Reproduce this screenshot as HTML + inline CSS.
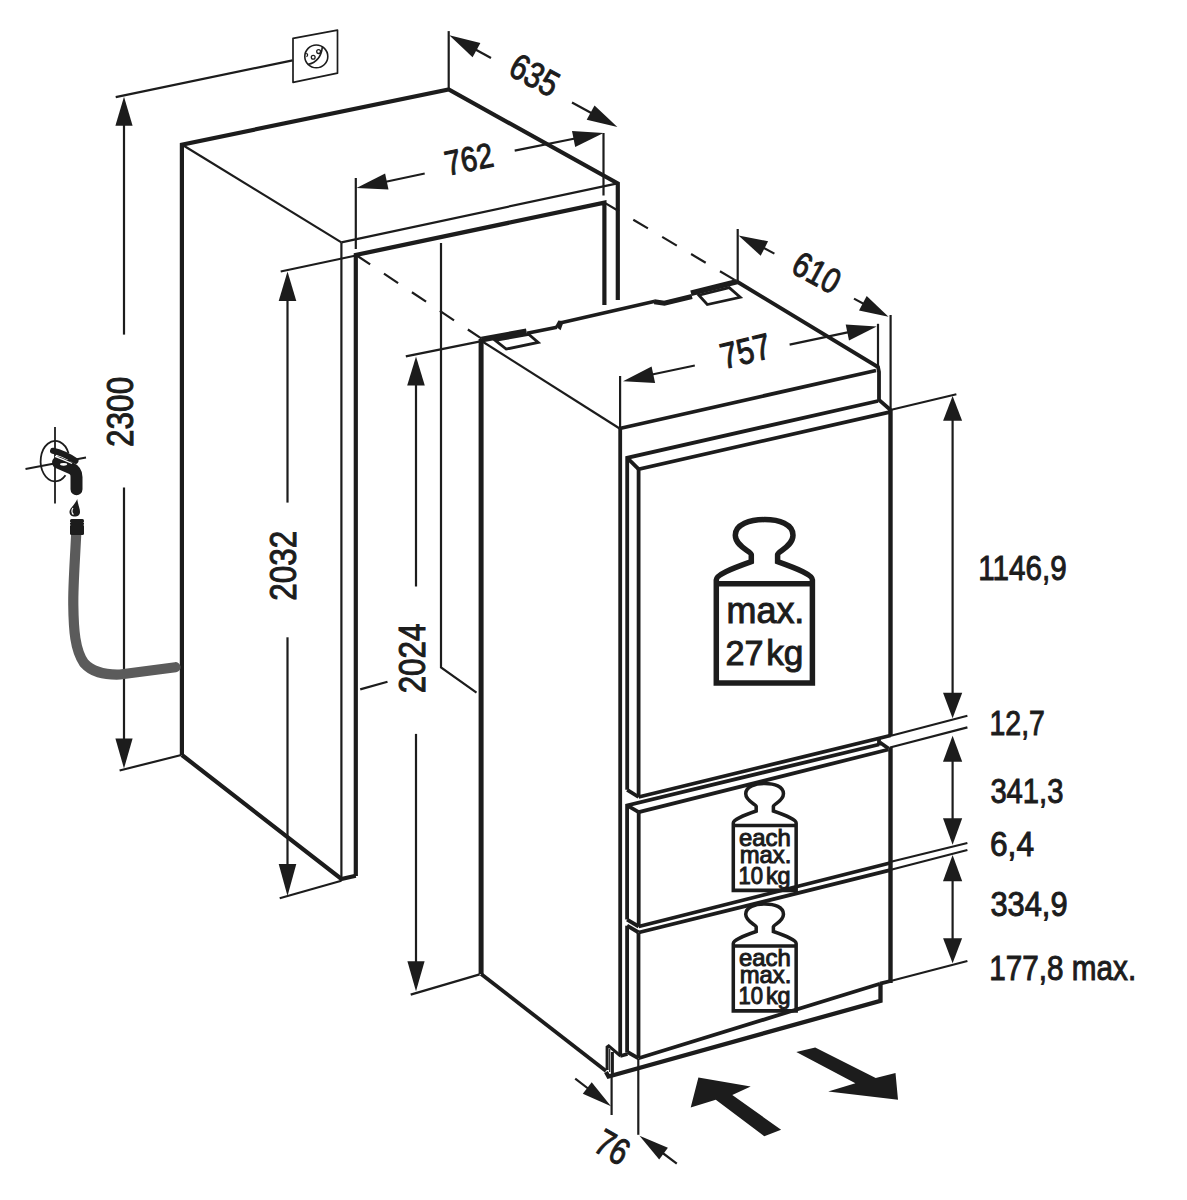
<!DOCTYPE html>
<html><head><meta charset="utf-8"><style>
html,body{margin:0;padding:0;background:#fff;}
svg{display:block;}
text{font-family:"Liberation Sans",sans-serif;fill:#1c1c1c;}
</style></head><body>
<svg width="1187" height="1200" viewBox="0 0 1187 1200" stroke="#1c1c1c" stroke-linecap="butt" stroke-linejoin="miter">
<rect width="1187" height="1200" fill="#fff" stroke="none"/>
<polyline points="181.9,755 181.9,144.6 448.7,89.5 617.8,183.5 617.8,300" stroke-width="4.2" fill="none"/>
<polyline points="355.8,876 355.8,255 604.4,202.6 604.4,305" stroke-width="4.2" fill="none"/>
<polyline points="181.9,755 341.4,879 355.8,875.7" stroke-width="4.2" fill="none"/>
<line x1="181" y1="144" x2="341.4" y2="242.4" stroke-width="2.2"/>
<line x1="341.4" y1="242.4" x2="617.5" y2="183.3" stroke-width="2.2"/>
<line x1="341.4" y1="242.4" x2="341.4" y2="879" stroke-width="2.2"/>
<polyline points="441,243 441,667.4 476.5,692.7" stroke-width="2.2" fill="none"/>
<line x1="360.2" y1="689.4" x2="387.5" y2="681.8" stroke-width="2.2"/>
<line x1="356" y1="255" x2="481.6" y2="338.7" stroke-width="2.2" stroke-dasharray="17 16.6"/>
<line x1="604.4" y1="202.6" x2="736.5" y2="281" stroke-width="2.2" stroke-dasharray="17 16.6"/>
<line x1="527" y1="333.3" x2="557" y2="327.2" stroke-width="3.5"/>
<line x1="561" y1="322.7" x2="655" y2="301.2" stroke-width="3.5"/>
<polygon points="555.3,326.2 558.4,320.5 563.8,321.3 560.6,330.2" fill="#1c1c1c" stroke="none"/>
<line x1="481.5" y1="339.6" x2="526.5" y2="331.3" stroke-width="5.8"/>
<polyline points="654.3,301.8 664.4,303.2 692,296.5" stroke-width="5" fill="none"/>
<line x1="691" y1="293.2" x2="737" y2="281.6" stroke-width="5.6"/>
<polygon points="495.2,340.3 506.2,349.1 538.2,342.4 528.9,334.4" stroke-width="2.8" fill="none"/>
<polygon points="698.9,295.2 707.3,304.5 740.2,297.3 729.2,287.6" stroke-width="2.8" fill="none"/>
<line x1="481.1" y1="339" x2="481.1" y2="974" stroke-width="5"/>
<polyline points="736,281 878,367 879,372 879,400 890.6,410" stroke-width="3.8" fill="none"/>
<line x1="619.6" y1="428.5" x2="876" y2="370.5" stroke-width="3.8"/>
<line x1="481.6" y1="341" x2="619.6" y2="428.5" stroke-width="2.2"/>
<line x1="620.2" y1="428.5" x2="620.2" y2="1055" stroke-width="3.8"/>
<line x1="481.1" y1="974" x2="606" y2="1071" stroke-width="3.8"/>
<line x1="890.5" y1="410" x2="890.5" y2="735.5" stroke-width="4.4"/>
<line x1="890.5" y1="747.3" x2="890.5" y2="983" stroke-width="4.4"/>
<polyline points="627.2,789.8 627.2,457.8 878,401" stroke-width="3.8" fill="none"/>
<polyline points="638.6,797 638.6,469.2 890.6,411.8" stroke-width="3.8" fill="none"/>
<line x1="627.2" y1="457.8" x2="638.6" y2="469.2" stroke-width="3.8"/>
<line x1="627.2" y1="789.8" x2="638.6" y2="797" stroke-width="3.8"/>
<line x1="638.6" y1="797" x2="890.5" y2="735.5" stroke-width="3.8"/>
<polyline points="627.1,919.6 627.1,805.4 879,744.5" stroke-width="3.8" fill="none"/>
<line x1="879" y1="737" x2="879" y2="745.5" stroke-width="3.8"/>
<line x1="627.1" y1="805.4" x2="638.7" y2="812.1" stroke-width="3.8"/>
<line x1="638.7" y1="812.1" x2="888.5" y2="749.5" stroke-width="3.8"/>
<line x1="880" y1="742.5" x2="888.5" y2="748.5" stroke-width="3.8"/>
<line x1="638.7" y1="812.1" x2="638.7" y2="926.5" stroke-width="3.8"/>
<line x1="627.1" y1="919.6" x2="638.7" y2="926.5" stroke-width="3.8"/>
<line x1="638.7" y1="926.5" x2="890" y2="863" stroke-width="3.8"/>
<line x1="627.1" y1="925.7" x2="627.1" y2="1052.5" stroke-width="3.8"/>
<line x1="627.1" y1="925.7" x2="638.7" y2="932.5" stroke-width="3.8"/>
<line x1="638.7" y1="932.5" x2="890" y2="870.2" stroke-width="3.8"/>
<line x1="638.5" y1="933" x2="638.5" y2="1058.3" stroke-width="3.8"/>
<line x1="627.5" y1="1052" x2="638.5" y2="1058.3" stroke-width="3.8"/>
<line x1="638.5" y1="1058.3" x2="880" y2="983.7" stroke-width="3.8"/>
<line x1="880" y1="983.7" x2="890.6" y2="981" stroke-width="3.8"/>
<polyline points="606,1072 608.5,1076.5 880.5,1000.8 880.5,983.7" stroke-width="4.3" fill="none"/>
<polyline points="607.1,1070 607.1,1047 608.7,1045.8 620.5,1056" stroke-width="3" fill="none"/>
<line x1="612.4" y1="1052" x2="612.4" y2="1076" stroke-width="3"/>
<line x1="609.7" y1="1049" x2="609.7" y2="1072" stroke-width="1.2"/>
<line x1="620.2" y1="1056" x2="627.5" y2="1054" stroke-width="3.8"/>
<line x1="115.7" y1="97.1" x2="292.6" y2="60.4" stroke-width="2.2"/>
<line x1="124" y1="110" x2="124" y2="334.6" stroke-width="2.2"/>
<line x1="124" y1="487.4" x2="124" y2="755" stroke-width="2.2"/>
<polygon points="124,96.8 115.4,125.8 132.6,125.8" fill="#1c1c1c" stroke="none"/>
<polygon points="124,768.5 132.6,738.5 115.4,738.5" fill="#1c1c1c" stroke="none"/>
<line x1="119.6" y1="770.5" x2="181.3" y2="755" stroke-width="2.2"/>
<polygon points="293,38.3 337.5,30.1 337.5,73.2 293,82.4" stroke-width="1.7" fill="none" stroke-linejoin="round"/>
<ellipse cx="316.3" cy="56.4" rx="11.5" ry="11.4" stroke-width="1.6" fill="none"/>
<path d="M 307.7 64.5 C 313 63.5, 321 60, 322.4 46.7" stroke-width="1.6" fill="none"/>
<path d="M 306.2 53.3 A 1.7 1.7 0 0 1 306.4 56.6" stroke-width="1.3" fill="none"/>
<circle cx="313.2" cy="57.2" r="1.9" stroke-width="1.3" fill="none"/>
<circle cx="318.6" cy="51.6" r="1.9" stroke-width="1.3" fill="none"/>
<line x1="280.7" y1="271.5" x2="356" y2="255.5" stroke-width="2.2"/>
<line x1="287.5" y1="290" x2="287.5" y2="502.6" stroke-width="2.2"/>
<line x1="287.5" y1="637.3" x2="287.5" y2="880" stroke-width="2.2"/>
<polygon points="287.5,271.5 278.7,301 296.3,301" fill="#1c1c1c" stroke="none"/>
<polygon points="287.5,896 296.3,864 278.7,864" fill="#1c1c1c" stroke="none"/>
<line x1="279.7" y1="898.2" x2="341.4" y2="880.7" stroke-width="2.2"/>
<line x1="405.8" y1="356.4" x2="481.6" y2="341.2" stroke-width="2.2"/>
<line x1="416" y1="370" x2="416" y2="586.5" stroke-width="2.2"/>
<line x1="416" y1="733.9" x2="416" y2="975" stroke-width="2.2"/>
<polygon points="416,356.4 407.2,385.4 424.8,385.4" fill="#1c1c1c" stroke="none"/>
<polygon points="416,991.3 424.6,961.3 407.4,961.3" fill="#1c1c1c" stroke="none"/>
<line x1="410.7" y1="994.6" x2="479.7" y2="974.4" stroke-width="2.2"/>
<line x1="448.7" y1="31.1" x2="448.7" y2="89.5" stroke-width="2.2"/>
<line x1="470" y1="46.5" x2="491" y2="58" stroke-width="2.2"/>
<polygon points="449.3,35.2 472.6,57.3 480.4,42.9" fill="#1c1c1c" stroke="none"/>
<line x1="572" y1="102.5" x2="600" y2="117.8" stroke-width="2.2"/>
<polygon points="617.4,127.1 594.5,105.4 586.7,119.8" fill="#1c1c1c" stroke="none"/>
<line x1="355.8" y1="178" x2="355.8" y2="249" stroke-width="2.2"/>
<line x1="603.5" y1="133" x2="603.5" y2="195.5" stroke-width="2.2"/>
<line x1="380" y1="183" x2="424.7" y2="173.5" stroke-width="2.2"/>
<polygon points="356.5,188 388.5,189.6 385.1,173.5" fill="#1c1c1c" stroke="none"/>
<line x1="514.7" y1="150.6" x2="580" y2="137.5" stroke-width="2.2"/>
<polygon points="603.5,133 572,130.9 575.2,147" fill="#1c1c1c" stroke="none"/>
<line x1="737.7" y1="229" x2="737.7" y2="281" stroke-width="2.2"/>
<line x1="890.6" y1="315" x2="890.6" y2="410" stroke-width="2.2"/>
<line x1="760" y1="246" x2="774.4" y2="253.6" stroke-width="2.2"/>
<polygon points="738.5,235.4 760.7,255.8 768.1,241.2" fill="#1c1c1c" stroke="none"/>
<line x1="854" y1="298.6" x2="870" y2="307.3" stroke-width="2.2"/>
<polygon points="888.5,316.8 866.7,296 859,310.5" fill="#1c1c1c" stroke="none"/>
<line x1="620.1" y1="376" x2="620.1" y2="428.5" stroke-width="2.2"/>
<line x1="878" y1="323.8" x2="878" y2="367" stroke-width="2.2"/>
<line x1="645" y1="376" x2="694.8" y2="365.5" stroke-width="2.2"/>
<polygon points="623,381.2 655.1,383 651.6,366.6" fill="#1c1c1c" stroke="none"/>
<line x1="789.6" y1="344.6" x2="850" y2="331.8" stroke-width="2.2"/>
<polygon points="876.7,326.4 845.7,324.5 849,340.6" fill="#1c1c1c" stroke="none"/>
<line x1="890.3" y1="410" x2="956.4" y2="394.2" stroke-width="2.2"/>
<line x1="952.6" y1="415" x2="952.6" y2="700" stroke-width="2.2"/>
<polygon points="952.6,396 943.1,420.8 962.1,420.8" fill="#1c1c1c" stroke="none"/>
<polygon points="952.6,718.3 962.2,692.8 943,692.8" fill="#1c1c1c" stroke="none"/>
<line x1="890" y1="736" x2="967.4" y2="715.8" stroke-width="2.2"/>
<line x1="890" y1="747.5" x2="967.4" y2="727.4" stroke-width="2.2"/>
<line x1="952.6" y1="750" x2="952.6" y2="830" stroke-width="2.2"/>
<polygon points="952.6,735.8 943,761.8 962.2,761.8" fill="#1c1c1c" stroke="none"/>
<polygon points="952.6,844.7 962.2,818.3 943,818.3" fill="#1c1c1c" stroke="none"/>
<line x1="890" y1="862" x2="967.4" y2="843" stroke-width="2.2"/>
<line x1="890" y1="870" x2="967.4" y2="850" stroke-width="2.2"/>
<line x1="952.6" y1="870" x2="952.6" y2="950" stroke-width="2.2"/>
<polygon points="952.6,855 943,881.3 962.2,881.3" fill="#1c1c1c" stroke="none"/>
<polygon points="952.6,963.2 962.1,938.2 943.1,938.2" fill="#1c1c1c" stroke="none"/>
<line x1="890.6" y1="981" x2="967.4" y2="961" stroke-width="2.2"/>
<line x1="611.6" y1="1077" x2="611.6" y2="1115" stroke-width="2.2"/>
<line x1="638.3" y1="1059" x2="638.3" y2="1134.8" stroke-width="2.2"/>
<line x1="575.2" y1="1078.7" x2="590" y2="1090" stroke-width="2.2"/>
<polygon points="611,1106.3 591.7,1082.2 582.8,1093.8" fill="#1c1c1c" stroke="none"/>
<line x1="660" y1="1151" x2="676.8" y2="1163.6" stroke-width="2.2"/>
<polygon points="639.5,1135.7 659.2,1159.5 667.9,1147.8" fill="#1c1c1c" stroke="none"/>
<polygon points="690.7,1107.5 698.4,1077.5 750.7,1086.6 732.3,1094.9 781.1,1129.8 764.3,1136.2 715.8,1099.8" fill="#1c1c1c" stroke="none"/>
<polygon points="796.3,1051.9 815.2,1047.4 875.7,1078.1 895.5,1073 898,1099.8 828.2,1091.6 855.4,1083.3" fill="#1c1c1c" stroke="none"/>
<path d="M 76.2 534 C 75 560, 73 585, 73.3 605 C 73.6 630, 75 650, 84 663 C 92 672, 103 675, 120 674.5 L 175.5 667.2" stroke="#5b5b5b" stroke-width="10.2" fill="none" stroke-linecap="round"/>
<line x1="55" y1="427" x2="55" y2="503.5" stroke-width="1.8"/>
<line x1="25.5" y1="469" x2="86" y2="457.5" stroke-width="1.8"/>
<path d="M 68.5 453.3 A 14.5 20.25 0 1 0 65.5 475.3" stroke-width="1.8" fill="none"/>
<path d="M 58 462.5 L 70 467.8 C 74.5 469.8, 76.5 472, 76.5 477 L 76.5 489.3" stroke-width="12" fill="none" stroke-linecap="round"/>
<path d="M 55 456.3 Q 63 459.3 72 463.5" stroke="#fff" stroke-width="1.3" fill="none"/>
<path d="M 53 450.8 Q 64 453.2 75.5 460.8" stroke-width="6" stroke-linecap="round" fill="none"/>
<ellipse cx="63.6" cy="464.3" rx="3.6" ry="1.4" fill="#fff" stroke="none"/>
<path d="M 77.2 499 C 75 505, 69.5 508, 69.5 512 C 69.5 515, 72 516.6, 74.8 516.6 C 77.6 516.6, 80 515, 80 512 C 80 508, 78 505, 77.2 499 Z" fill="#1c1c1c" stroke="none"/>
<path d="M 73 508 C 71.5 510, 71.5 513, 73.5 514.5" stroke="#fff" stroke-width="1.2" fill="none"/>
<rect x="70" y="519" width="14" height="16" rx="1.5" fill="#1c1c1c" stroke="none"/>
<path d="M 69.5 522.4 h 1.2 M 69.5 525 h 1.2 M 83.3 522.4 h 1.2 M 83.3 525 h 1.2" stroke="#fff" stroke-width="0.8"/>
<path d="M 0 99.2 L 0 -4 C 0 -9.1, 14 -14.7, 35 -22.2 L 35 -29.3 C 35 -32.4, 19 -37.4, 19 -48.5 C 19 -59.6, 33.7 -64.2, 48.3 -64.2 C 63 -64.2, 76.7 -59.6, 76.7 -48.5 C 76.7 -37.4, 61.3 -32.4, 61.3 -29.3 L 61.3 -22.2 C 82.2 -14.7, 96.1 -9.1, 96.1 -4 L 96.1 99.2 Z M 0 0 L 96.1 0" transform="translate(716.3 583.8)" stroke-width="5.5" fill="none" stroke-linejoin="miter"/>
<path d="M 0 99.2 L 0 -4 C 0 -9.1, 14 -14.7, 35 -22.2 L 35 -29.3 C 35 -32.4, 19 -37.4, 19 -48.5 C 19 -59.6, 33.7 -64.2, 48.3 -64.2 C 63 -64.2, 76.7 -59.6, 76.7 -48.5 C 76.7 -37.4, 61.3 -32.4, 61.3 -29.3 L 61.3 -22.2 C 82.2 -14.7, 96.1 -9.1, 96.1 -4 L 96.1 99.2 Z M 0 0 L 96.1 0" transform="translate(733.3 825.5) scale(0.654)" stroke-width="5.4" fill="none" stroke-linejoin="miter"/>
<path d="M 0 99.2 L 0 -4 C 0 -9.1, 14 -14.7, 35 -22.2 L 35 -29.3 C 35 -32.4, 19 -37.4, 19 -48.5 C 19 -59.6, 33.7 -64.2, 48.3 -64.2 C 63 -64.2, 76.7 -59.6, 76.7 -48.5 C 76.7 -37.4, 61.3 -32.4, 61.3 -29.3 L 61.3 -22.2 C 82.2 -14.7, 96.1 -9.1, 96.1 -4 L 96.1 99.2 Z M 0 0 L 96.1 0" transform="translate(733.3 946) scale(0.654)" stroke-width="5.4" fill="none" stroke-linejoin="miter"/>
<text transform="translate(120.35,411.75) rotate(-90)" x="-35.23" y="12.58" font-size="36.58" textLength="70.13" lengthAdjust="spacingAndGlyphs">2300</text>
<text transform="translate(283.50,565.80) rotate(-90)" x="-34.97" y="12.54" font-size="36.44" textLength="69.96" lengthAdjust="spacingAndGlyphs">2032</text>
<text transform="translate(412.15,658.20) rotate(-90)" x="-35.17" y="12.39" font-size="36.02" textLength="69.69" lengthAdjust="spacingAndGlyphs">2024</text>
<text transform="translate(534.70,75.10) rotate(28.66)" x="-25.02" y="12.39" font-size="36.02" textLength="49.79" lengthAdjust="spacingAndGlyphs">635</text>
<text transform="translate(468.90,159.10) rotate(-11.5)" x="-24.28" y="11.95" font-size="34.75" textLength="48.55" lengthAdjust="spacingAndGlyphs">762</text>
<text transform="translate(816.80,272.70) rotate(28.6)" x="-24.49" y="12.15" font-size="35.31" textLength="48.64" lengthAdjust="spacingAndGlyphs">610</text>
<text transform="translate(745.40,351.30) rotate(-13.5)" x="-25.24" y="12.29" font-size="36.25" textLength="50.47" lengthAdjust="spacingAndGlyphs">757</text>
<text transform="translate(612.50,1147.10) rotate(30)" x="-16.50" y="12.83" font-size="37.29" textLength="32.81" lengthAdjust="spacingAndGlyphs">76</text>
<text x="978.25" y="579.70" font-size="35.82" textLength="88.46" lengthAdjust="spacingAndGlyphs">1146,9</text>
<text x="989.54" y="735.00" font-size="35.67" textLength="55.39" lengthAdjust="spacingAndGlyphs">12,7</text>
<text x="990.39" y="803.10" font-size="35.82" textLength="73.11" lengthAdjust="spacingAndGlyphs">341,3</text>
<text x="989.98" y="855.50" font-size="34.81" textLength="44.04" lengthAdjust="spacingAndGlyphs">6,4</text>
<text x="990.43" y="915.70" font-size="34.96" textLength="77.13" lengthAdjust="spacingAndGlyphs">334,9</text>
<text x="989.34" y="979.60" font-size="35.39" textLength="146.87" lengthAdjust="spacingAndGlyphs">177,8 max.</text>
<text x="726.53" y="622.90" font-size="36.00" textLength="77.84" lengthAdjust="spacingAndGlyphs">max.</text>
<text x="725.49" y="664.80" font-size="35.40" textLength="38.03" lengthAdjust="spacingAndGlyphs">27</text>
<text x="766.14" y="664.80" font-size="35.40" textLength="37.22" lengthAdjust="spacingAndGlyphs">kg</text>
<text x="738.90" y="845.80" font-size="24.00" textLength="51.77" lengthAdjust="spacingAndGlyphs">each</text>
<text x="739.63" y="862.60" font-size="24.00" textLength="51.64" lengthAdjust="spacingAndGlyphs">max.</text>
<text x="738.42" y="883.50" font-size="23.60" textLength="24.54" lengthAdjust="spacingAndGlyphs">10</text>
<text x="765.94" y="883.50" font-size="23.60" textLength="24.66" lengthAdjust="spacingAndGlyphs">kg</text>
<text x="738.90" y="966.30" font-size="24.00" textLength="51.77" lengthAdjust="spacingAndGlyphs">each</text>
<text x="739.63" y="983.10" font-size="24.00" textLength="51.64" lengthAdjust="spacingAndGlyphs">max.</text>
<text x="738.42" y="1004.00" font-size="23.60" textLength="24.54" lengthAdjust="spacingAndGlyphs">10</text>
<text x="765.94" y="1004.00" font-size="23.60" textLength="24.66" lengthAdjust="spacingAndGlyphs">kg</text>
</svg>
</body></html>
